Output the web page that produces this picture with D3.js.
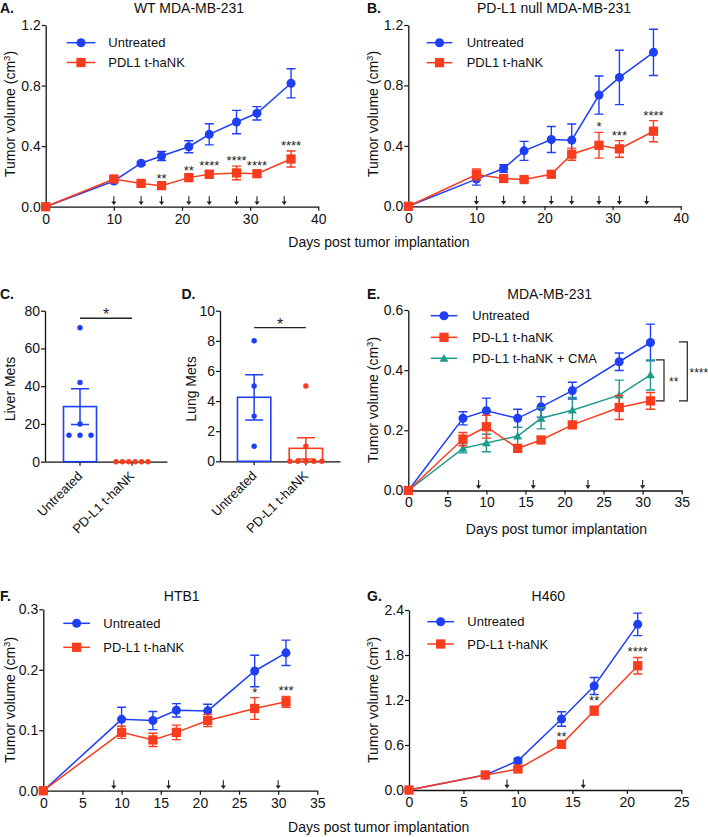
<!DOCTYPE html>
<html><head><meta charset="utf-8">
<script src="https://cdn.jsdelivr.net/npm/d3@7"></script>
<style>body{margin:0;background:#fff}</style>
</head><body><svg id="c" width="708" height="837"></svg>
<script>
// ---------------- DATA ----------------
// Panel A: WT MDA-MB-231
const daysA = [0, 10, 14, 17, 21, 24, 28, 31, 36];
const untreatedA = [0, 0.17, 0.287, 0.335, 0.396, 0.478, 0.559, 0.617, 0.815];
const untreatedErrA = [0, 0.01, 0.012, 0.03, 0.04, 0.07, 0.077, 0.044, 0.096];
const pdl1A = [0, 0.183, 0.154, 0.139, 0.192, 0.214, 0.223, 0.218, 0.315];
const pdl1ErrA = [0, 0.012, 0.012, 0.012, 0.012, 0.025, 0.045, 0.02, 0.053];
const sigA = ["", "", "", "**", "**", "****", "****", "****", "****"];
const doseDaysA = [10, 14, 17, 21, 24, 28, 31, 35];

// Panel B: PD-L1 null MDA-MB-231
const daysB = [0, 10, 14, 17, 21, 24, 28, 31, 36];
const untreatedB = [0, 0.18, 0.25, 0.367, 0.442, 0.438, 0.736, 0.853, 1.019];
const untreatedErrB = [0, 0.04, 0.025, 0.063, 0.086, 0.107, 0.126, 0.18, 0.153];
const pdl1B = [0, 0.21, 0.184, 0.177, 0.212, 0.345, 0.404, 0.38, 0.497];
const pdl1ErrB = [0, 0.037, 0.012, 0.01, 0.012, 0.04, 0.085, 0.055, 0.07];
const sigB = ["", "", "", "", "", "", "*", "***", "****"];
const doseDaysB = [10, 14, 17, 21, 24, 28, 31, 35];

// Panel C / D: metastases
const metGroups = ["Untreated", "PD-L1 t-haNK"];
const liverUntreated = [71, 42, 20, 14, 14, 14];
const liverPDL1 = [0, 0, 0, 0, 0, 0];
const liverMean = [29.2, 0];
const liverSem = [9.5, 0];
const liverSigLevel = 76;
const lungUntreated = [8, 5, 3, 1];
const lungPDL1 = [5, 1, 0, 0, 0, 0, 0];
const lungMean = [4.25, 0.86];
const lungSem = [1.5, 0.7];
const lungSigLevel = 8.87;

// Panel E: MDA-MB-231 (+CMA)
const daysE = [0, 7, 10, 14, 17, 21, 27, 31];
const untreatedE = [0, 0.24, 0.265, 0.24, 0.278, 0.332, 0.428, 0.492];
const untreatedErrE = [0, 0.022, 0.042, 0.03, 0.034, 0.028, 0.029, 0.061];
const pdl1E = [0, 0.171, 0.212, 0.14, 0.168, 0.218, 0.276, 0.298];
const pdl1ErrE = [0, 0.022, 0.038, 0.008, 0.01, 0.01, 0.04, 0.028];
const cmaE = [0, 0.14, 0.158, 0.181, 0.24, 0.267, 0.317, 0.384];
const cmaErrE = [0, 0.015, 0.029, 0.029, 0.035, 0.042, 0.05, 0.05];
const doseDaysE = [9, 16, 23, 30];
const bracketsE = [
  { top: 0.434, bottom: 0.298, label: "**" },
  { top: 0.494, bottom: 0.298, label: "****" }
];

// Panel F: HTB1
const daysF = [0, 10, 14, 17, 21, 27, 31];
const untreatedF = [0, 0.118, 0.116, 0.133, 0.132, 0.198, 0.228];
const untreatedErrF = [0, 0.02, 0.015, 0.011, 0.011, 0.026, 0.021];
const pdl1F = [0, 0.0965, 0.084, 0.0965, 0.116, 0.136, 0.147];
const pdl1ErrF = [0, 0.01, 0.011, 0.012, 0.01, 0.018, 0.009];
const sigF = ["", "", "", "", "", "*", "***"];
const doseDaysF = [9, 16, 23, 30];

// Panel G: H460
const daysG = [0, 7, 10, 14, 17, 21];
const untreatedG = [0, 0.2, 0.39, 0.947, 1.387, 2.209];
const untreatedErrG = [0, 0, 0.03, 0.096, 0.113, 0.15];
const pdl1G = [0, 0.2, 0.28, 0.609, 1.058, 1.657];
const pdl1ErrG = [0, 0, 0.02, 0.025, 0.06, 0.11];
const sigG = ["", "", "", "**", "**", "****"];
const doseDaysG = [9, 16];

// ---------------- STYLE ----------------
const FONT = "'Liberation Sans', Arial, Helvetica, sans-serif";
const BLUE = "#1f3ff5";
const RED = "#fa3c1e";
const TEAL = "#1f9a8c";
const INK = "#111";

const svg = d3.select("#c");
svg.append("rect").attr("width", 708).attr("height", 837).attr("fill", "#fff");

function txt(x, y, s, opts = {}) {
  return svg.append("text").attr("x", x).attr("y", y).text(s)
    .attr("font-family", FONT).attr("font-size", opts.size || 14)
    .attr("font-weight", opts.bold ? "bold" : "normal")
    .attr("text-anchor", opts.anchor || "start").attr("fill", opts.fill || INK);
}

function yLabel(x, y, s, withUnit) {
  const t = svg.append("text").attr("transform", `translate(${x},${y}) rotate(-90)`)
    .attr("font-family", FONT).attr("font-size", 14).attr("text-anchor", "middle").attr("fill", INK);
  t.append("tspan").text(s);
  if (withUnit) {
    t.append("tspan").text(" (cm");
    t.append("tspan").text("3").attr("font-size", 9.5).attr("dy", "-0.5em");
    t.append("tspan").text(")").attr("dy", "0.35em");
  }
}

function styleAxis(g) {
  g.select(".domain").attr("stroke", INK).attr("stroke-width", 1.3);
  g.selectAll(".tick line").attr("stroke", INK).attr("stroke-width", 1.2);
  g.selectAll("text").attr("font-family", FONT).attr("font-size", 14).attr("fill", INK);
}

function drawMarker(g, cx, cy, shape, color) {
  const sym = shape === "circle" ? d3.symbolCircle : shape === "square" ? d3.symbolSquare : d3.symbolTriangle;
  const size = shape === "circle" ? 64 : shape === "square" ? 86 : 34;
  g.append("path").attr("d", d3.symbol(sym, size)())
    .attr("transform", `translate(${cx},${cy + (shape === "triangle" ? 0.8 : 0)})`).attr("fill", color);
}

function drawSeries(g, x, y, days, vals, errs, color, shape) {
  const line = d3.line().x((d, i) => x(days[i])).y(d => y(d));
  g.append("path").attr("d", line(vals)).attr("fill", "none").attr("stroke", color).attr("stroke-width", 1.5);
  vals.forEach((v, i) => {
    const e = errs[i];
    if (!e) return;
    const cx = x(days[i]);
    g.append("path")
      .attr("d", `M${cx},${y(v - e)}V${y(v + e)}M${cx - 4.5},${y(v + e)}H${cx + 4.5}M${cx - 4.5},${y(v - e)}H${cx + 4.5}`)
      .attr("stroke", color).attr("stroke-width", 1.4).attr("fill", "none");
  });
  vals.forEach((v, i) => drawMarker(g, x(days[i]), y(v), shape, color));
}

function drawArrow(g, cx, yBase) {
  g.append("line").attr("x1", cx).attr("x2", cx).attr("y1", yBase - 10.5).attr("y2", yBase - 4.5)
    .attr("stroke", "#222").attr("stroke-width", 1.1);
  g.append("path").attr("d", `M${cx - 2.6},${yBase - 5.2}L${cx + 2.6},${yBase - 5.2}L${cx},${yBase - 1.6}Z`).attr("fill", "#222");
}

function linePanel(L) {
  const x = d3.scaleLinear().domain(L.xDomain).range([L.x0, L.x1]);
  const y = d3.scaleLinear().domain(L.yDomain).range([L.y0, L.y1]);
  const g = svg.append("g");
  const yAx = g.append("g").attr("transform", `translate(${L.x0},0)`)
    .call(d3.axisLeft(y).tickValues(L.yTicks).tickFormat(d3.format(".1f")).tickSize(4).tickSizeOuter(0).tickPadding(1));
  styleAxis(yAx);
  const xAx = g.append("g").attr("transform", `translate(0,${L.y0})`)
    .call(d3.axisBottom(x).tickValues(L.xTicks).tickFormat(d3.format("d")).tickSize(4).tickSizeOuter(0).tickPadding(3));
  styleAxis(xAx);
  L.doses.forEach(d => drawArrow(g, x(d), L.y0));
  L.series.forEach(s => drawSeries(g, x, y, L.days, s.vals, s.errs, s.color, s.shape));
  if (L.sig) {
    const s = L.series[L.series.length - 1];
    L.sig.forEach((lab, i) => {
      if (!lab) return;
      g.append("text").attr("x", x(L.days[i])).attr("y", y(s.vals[i] + s.errs[i]) - 1).text(lab)
        .attr("font-family", FONT).attr("font-size", 13).attr("text-anchor", "middle").attr("fill", "#222");
    });
  }
  // legend
  L.series.forEach((s, i) => {
    const ly = L.legend.y[i];
    g.append("line").attr("x1", L.legend.lx0).attr("x2", L.legend.lx1).attr("y1", ly).attr("y2", ly)
      .attr("stroke", s.color).attr("stroke-width", 1.5);
    drawMarker(g, (L.legend.lx0 + L.legend.lx1) / 2, ly, s.shape, s.color);
    g.append("text").attr("x", L.legend.tx).attr("y", ly).attr("dy", "0.36em").text(s.name)
      .attr("font-family", FONT).attr("font-size", 13).attr("fill", INK);
  });
  return { x, y, g };
}

// Panel A
txt(0, 13, "A.", { bold: true });
txt(189, 13, "WT MDA-MB-231", { anchor: "middle" });
yLabel(14.5, 114, "Tumor volume", true);
linePanel({
  x0: 45.7, x1: 318.3, y0: 206.7, y1: 25, xDomain: [0, 40], yDomain: [0, 1.2],
  xTicks: [0, 10, 20, 30, 40], yTicks: [0, 0.4, 0.8, 1.2], days: daysA, doses: doseDaysA, sig: sigA,
  series: [
    { name: "Untreated", vals: untreatedA, errs: untreatedErrA, color: BLUE, shape: "circle" },
    { name: "PDL1 t-haNK", vals: pdl1A, errs: pdl1ErrA, color: RED, shape: "square" }
  ],
  legend: { lx0: 66.7, lx1: 95.3, tx: 108.3, y: [42.7, 62.5] }
});

// Panel B
txt(367, 13, "B.", { bold: true });
txt(554, 13, "PD-L1 null MDA-MB-231", { anchor: "middle" });
yLabel(378, 114, "Tumor volume", true);
linePanel({
  x0: 408.3, x1: 680.7, y0: 206.3, y1: 25, xDomain: [0, 40], yDomain: [0, 1.2],
  xTicks: [0, 10, 20, 30, 40], yTicks: [0, 0.4, 0.8, 1.2], days: daysB, doses: doseDaysB, sig: sigB,
  series: [
    { name: "Untreated", vals: untreatedB, errs: untreatedErrB, color: BLUE, shape: "circle" },
    { name: "PDL1 t-haNK", vals: pdl1B, errs: pdl1ErrB, color: RED, shape: "square" }
  ],
  legend: { lx0: 426.7, lx1: 452.3, tx: 466.7, y: [42.7, 62.7] }
});
txt(379, 247, "Days post tumor implantation", { anchor: "middle" });

// Bar panels
function barPanel(B) {
  const x = d3.scaleBand().domain(metGroups).range([B.x0, B.x1]).paddingInner(B.pi).paddingOuter(B.po);
  const y = d3.scaleLinear().domain(B.yDomain).range([B.y0, B.y1]);
  const g = svg.append("g");
  const yAx = g.append("g").attr("transform", `translate(${B.x0},0)`)
    .call(d3.axisLeft(y).tickValues(B.yTicks).tickFormat(d3.format("d")).tickSize(4).tickSizeOuter(0).tickPadding(1));
  styleAxis(yAx);
  const xAx = g.append("g").attr("transform", `translate(0,${B.y0})`)
    .call(d3.axisBottom(x).tickSize(4).tickSizeOuter(0));
  styleAxis(xAx);
  xAx.selectAll("text").attr("font-size", 13).attr("text-anchor", "end")
    .attr("x", -8.5).attr("y", 8.5).attr("dy", "0.35em").attr("transform", "rotate(-45)");
  const colors = [BLUE, RED];
  const bw = x.bandwidth();
  metGroups.forEach((grp, i) => {
    const cx = x(grp) + bw / 2;
    const m = B.mean[i], e = B.sem[i];
    g.append("rect").attr("x", x(grp)).attr("width", bw).attr("y", y(m)).attr("height", Math.max(0, y(0) - y(m)))
      .attr("fill", "none").attr("stroke", colors[i]).attr("stroke-width", 1.6);
    if (e) {
      g.append("path")
        .attr("d", `M${cx},${y(m - e)}V${y(m + e)}M${cx - 9},${y(m + e)}H${cx + 9}M${cx - 9},${y(m - e)}H${cx + 9}`)
        .attr("stroke", colors[i]).attr("stroke-width", 1.5).attr("fill", "none");
    }
    const pts = B.points[i];
    const counts = d3.rollup(pts, v => v.length, d => d);
    const seen = new Map();
    pts.forEach(v => {
      const n = counts.get(v);
      const k = seen.get(v) || 0;
      seen.set(v, k + 1);
      const sp = n > 1 ? Math.min(11, 32 / (n - 1)) : 0;
      const px = cx + (k - (n - 1) / 2) * sp;
      g.append("circle").attr("cx", px).attr("cy", y(v)).attr("r", 2.7).attr("fill", colors[i]);
    });
  });
  const c0 = x(metGroups[0]) + bw / 2, c1 = x(metGroups[1]) + bw / 2;
  g.append("line").attr("x1", c0).attr("x2", c1).attr("y1", y(B.sigLevel)).attr("y2", y(B.sigLevel))
    .attr("stroke", "#222").attr("stroke-width", 1.3);
  g.append("text").attr("x", (c0 + c1) / 2).attr("y", y(B.sigLevel) + 2).text("*")
    .attr("font-family", FONT).attr("font-size", 16).attr("text-anchor", "middle").attr("fill", "#222");
}

txt(0, 299, "C.", { bold: true });
yLabel(15, 389, "Liver Mets", false);
barPanel({
  x0: 45, x1: 167, y0: 461.7, y1: 310.7, pi: 0.365, po: 0.356, yDomain: [0, 80], yTicks: [0, 20, 40, 60, 80],
  mean: liverMean, sem: liverSem, points: [liverUntreated, liverPDL1], sigLevel: liverSigLevel
});

txt(181.5, 299, "D.", { bold: true });
yLabel(195.5, 389, "Lung Mets", false);
barPanel({
  x0: 220, x1: 340, y0: 461.3, y1: 310.7, pi: 0.356, po: 0.338, yDomain: [0, 10], yTicks: [0, 2, 4, 6, 8, 10],
  mean: lungMean, sem: lungSem, points: [lungUntreated, lungPDL1], sigLevel: lungSigLevel
});

// Panel E
txt(367, 299, "E.", { bold: true });
txt(549.7, 299, "MDA-MB-231", { anchor: "middle" });
yLabel(378, 400, "Tumor volume", true);
const pE = linePanel({
  x0: 408.3, x1: 681.7, y0: 490.5, y1: 310, xDomain: [0, 35], yDomain: [0, 0.6],
  xTicks: [0, 5, 10, 15, 20, 25, 30, 35], yTicks: [0, 0.2, 0.4, 0.6], days: daysE, doses: doseDaysE,
  series: [
    { name: "Untreated", vals: untreatedE, errs: untreatedErrE, color: BLUE, shape: "circle" },
    { name: "PD-L1 t-haNK + CMA", vals: cmaE, errs: cmaErrE, color: TEAL, shape: "triangle" },
    { name: "PD-L1 t-haNK", vals: pdl1E, errs: pdl1ErrE, color: RED, shape: "square" }
  ],
  legend: { lx0: 430.7, lx1: 457.3, tx: 472.3, y: [315.7, 358.3, 337.3] }
});
[{ bx: 664, tx: 669 }, { bx: 687.3, tx: 689.5 }].forEach((p, i) => {
  const b = bracketsE[i];
  pE.g.append("path").attr("d", `M${p.bx - 8.3},${pE.y(b.top)}H${p.bx}V${pE.y(b.bottom)}H${p.bx - 8.3}`)
    .attr("fill", "none").attr("stroke", "#222").attr("stroke-width", 1.2);
  pE.g.append("text").attr("x", p.tx).attr("y", (pE.y(b.top) + pE.y(b.bottom)) / 2 + 6).text(b.label)
    .attr("font-family", FONT).attr("font-size", 12).attr("fill", "#222");
});
txt(556.5, 534, "Days post tumor implantation", { anchor: "middle" });

// Panel F
txt(0, 601, "F.", { bold: true });
txt(181.7, 601, "HTB1", { anchor: "middle" });
yLabel(14.5, 700, "Tumor volume", true);
linePanel({
  x0: 43.3, x1: 317.3, y0: 790.7, y1: 609.3, xDomain: [0, 35], yDomain: [0, 0.3],
  xTicks: [0, 5, 10, 15, 20, 25, 30, 35], yTicks: [0, 0.1, 0.2, 0.3], days: daysF, doses: doseDaysF, sig: sigF,
  series: [
    { name: "Untreated", vals: untreatedF, errs: untreatedErrF, color: BLUE, shape: "circle" },
    { name: "PD-L1 t-haNK", vals: pdl1F, errs: pdl1ErrF, color: RED, shape: "square" }
  ],
  legend: { lx0: 63.3, lx1: 90, tx: 103.3, y: [623.3, 647.3] }
});

// Panel G
txt(367, 601, "G.", { bold: true });
txt(548.3, 601, "H460", { anchor: "middle" });
yLabel(378, 700, "Tumor volume", true);
linePanel({
  x0: 409, x1: 681.3, y0: 790, y1: 610, xDomain: [0, 25], yDomain: [0, 2.4],
  xTicks: [0, 5, 10, 15, 20, 25], yTicks: [0, 0.6, 1.2, 1.8, 2.4], days: daysG, doses: doseDaysG, sig: sigG,
  series: [
    { name: "Untreated", vals: untreatedG, errs: untreatedErrG, color: BLUE, shape: "circle" },
    { name: "PD-L1 t-haNK", vals: pdl1G, errs: pdl1ErrG, color: RED, shape: "square" }
  ],
  legend: { lx0: 427.3, lx1: 454, tx: 467.3, y: [621.7, 644] }
});
txt(378.7, 832, "Days post tumor implantation", { anchor: "middle" });
</script></body></html>
